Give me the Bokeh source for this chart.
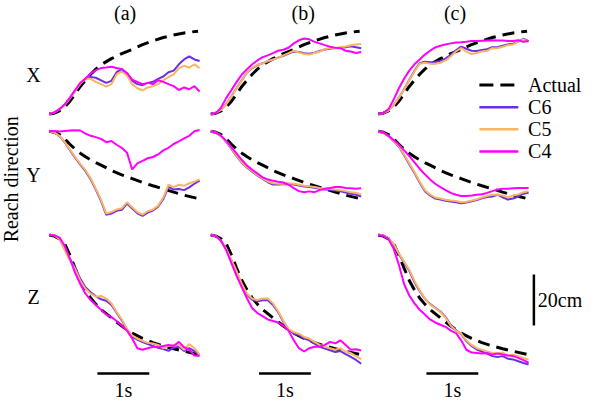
import math
import numpy as np
from bokeh.plotting import figure
from bokeh.models import Range1d, Label
from bokeh.embed import file_html
from bokeh.resources import INLINE

# ---------------- data (time in s, position change in cm) ----------------
t = [0.0, 0.1, 0.2, 0.3, 0.4, 0.5, 0.6, 0.7, 0.8, 0.9, 1.0, 1.1, 1.2, 1.3, 1.4,
     1.5, 1.6, 1.7, 1.8, 1.9, 2.0, 2.1, 2.2, 2.3, 2.4, 2.5, 2.6, 2.7, 2.8, 2.9]
t_actual = [0.0, 0.1, 0.2, 0.3, 0.4, 0.5, 0.6, 0.7, 0.8, 0.9, 1.0, 1.2, 1.4, 1.6,
            1.8, 2.0, 2.2, 2.4, 2.6, 2.87]

actual_x = [0, 0.3, 1.2, 2.7, 5.0, 7.8, 10.8, 13.3, 15.6, 17.6, 19.3, 21.7, 23.7,
            25.3, 27.2, 28.7, 30.0, 31.0, 31.8, 32.5]
actual_y = [0, -0.4, -1.3, -3.0, -5.1, -7.0, -8.6, -10.0, -11.2, -12.3, -13.3, -15.4,
            -17.1, -18.6, -20.1, -21.4, -22.6, -23.9, -25.1, -26.4]
actual_z = [0, -0.4, -1.5, -3.5, -7.9, -13.0, -17.8, -21.6, -24.7, -27.1, -29.2, -32.5,
            -35.7, -38.5, -40.5, -42.2, -43.5, -44.6, -45.6, -46.8]

# (a)
c6_a_x = [0, 0.6, 1.9, 3.6, 6.1, 9.0, 11.8, 13.8, 14.5, 14.2, 13.2, 12.2, 13.0, 16.4, 17.6,
          16.0, 13.0, 11.7, 11.3, 12.2, 12.6, 13.8, 14.7, 16.4, 17.0, 19.5, 21.4, 22.6, 21.4, 20.8]
c5_a_x = [0, 0.6, 1.9, 3.6, 6.1, 9.0, 11.8, 13.8, 13.8, 12.6, 11.7, 10.7, 11.7, 15.5, 16.7,
          15.1, 11.7, 10.1, 9.2, 10.4, 10.9, 11.7, 13.2, 14.5, 15.5, 18.0, 18.9, 18.2, 19.5, 18.0]
c4_a_x = [0, 0.6, 1.9, 3.8, 6.4, 9.4, 12.2, 13.9, 15.9, 17.2, 18.0, 18.2, 18.5, 18.0, 17.6,
          16.0, 13.5, 12.6, 11.7, 12.2, 11.7, 13.2, 12.6, 11.7, 10.9, 9.4, 10.4, 9.7, 10.9, 8.8]
c6_a_y = [0, -0.5, -1.9, -4.4, -7.4, -10.4, -13.1, -15.7, -18.9, -23.0, -27.4, -32.8, -32.3, -31.2, -30.8,
          -28.4, -30.3, -32.2, -33.2, -31.9, -31.1, -29.6, -26.6, -21.8, -22.9, -22.7, -23.1, -22.0, -20.6, -19.4]
c5_a_y = [0, -0.5, -1.8, -4.3, -7.2, -10.1, -12.8, -15.3, -18.5, -22.6, -26.9, -32.3, -31.7, -30.7, -30.2,
          -27.9, -29.8, -31.7, -32.7, -31.4, -30.7, -29.2, -26.0, -21.0, -21.9, -21.0, -21.4, -20.4, -19.8, -18.9]
c4_a_y = [0, 0.1, -0.1, 0.1, 0.3, 0.4, 0.3, -0.9, -1.8, -2.3, -3.0, -4.3, -3.8, -5.3, -6.5,
          -8.4, -15.0, -12.6, -11.6, -10.6, -10.1, -9.1, -7.5, -6.5, -5.0, -4.0, -2.8, -1.8, 0.0, 0.5]
c6_a_z = [0, -0.1, -1.4, -5.5, -9.4, -12.6, -17.2, -20.5, -22.4, -24.0, -25.2, -25.8, -27.4, -30.5, -33.5,
          -37.0, -39.9, -41.0, -42.0, -42.8, -43.5, -44.2, -44.7, -45.4, -44.2, -43.8, -45.5, -44.4, -45.5, -47.0]
c5_a_z = [0, -0.1, -1.6, -6.0, -10.1, -13.3, -18.0, -21.1, -23.0, -24.2, -23.9, -24.9, -26.8, -30.2, -33.1,
          -36.9, -39.4, -40.6, -41.5, -42.3, -42.5, -43.1, -44.4, -43.5, -43.1, -43.1, -45.0, -42.8, -44.4, -46.9]
c4_a_z = [0, -0.1, -1.0, -4.2, -9.2, -14.8, -19.2, -23.0, -25.5, -27.4, -29.3, -31.2, -32.2, -33.7, -35.6,
          -37.5, -40.6, -44.4, -45.0, -44.4, -43.8, -44.0, -43.5, -43.1, -43.5, -41.9, -44.0, -45.0, -47.3, -47.5]

# (b)
c6_b_x = [0, 0.4, 1.7, 3.9, 7.0, 10.2, 13.3, 16.3, 18.0, 19.2, 19.9, 20.6, 21.3, 22.1, 22.8,
          23.7, 24.5, 24.3, 23.8, 23.6, 24.0, 24.7, 25.3, 25.6, 25.9, 26.0, 26.2, 26.6, 26.2, 25.8]
c5_b_x = [0, 0.4, 1.6, 3.8, 6.9, 10.1, 13.2, 16.4, 18.2, 19.3, 19.8, 20.8, 21.4, 22.0, 23.0,
          23.9, 24.8, 24.1, 23.5, 23.3, 23.9, 24.5, 25.5, 25.8, 25.8, 26.3, 26.5, 27.0, 27.3, 27.5]
c4_b_x = [0, 0.4, 2.5, 6.3, 9.4, 12.6, 15.5, 17.6, 19.5, 21.0, 22.3, 23.0, 23.9, 24.8, 25.2,
          26.0, 27.7, 28.9, 29.6, 29.3, 28.3, 27.7, 27.0, 26.4, 26.0, 25.8, 24.8, 24.5, 23.9, 24.3]
c6_b_y = [0, -0.5, -1.9, -4.2, -7.0, -9.9, -12.4, -14.3, -15.9, -17.4, -18.7, -20.0, -20.9, -20.9, -20.8,
          -20.7, -20.9, -21.3, -21.7, -21.9, -22.2, -22.6, -22.9, -23.0, -23.3, -23.6, -24.0, -24.5, -24.9, -25.6]
c5_b_y = [0, -0.5, -1.8, -4.0, -6.8, -9.7, -12.2, -14.1, -15.6, -17.2, -18.5, -19.7, -20.4, -20.6, -20.6,
          -20.4, -20.6, -21.0, -21.4, -21.6, -21.9, -22.3, -22.6, -22.6, -22.9, -23.1, -23.5, -23.9, -24.1, -24.8]
c4_b_y = [0, -0.5, -1.8, -3.8, -6.3, -8.8, -11.3, -13.5, -15.1, -16.6, -18.1, -18.9, -19.4, -19.8, -20.1,
          -21.0, -22.3, -23.5, -23.9, -23.6, -23.9, -23.1, -22.6, -22.3, -21.9, -21.9, -22.3, -22.4, -22.6, -22.4]
c6_b_z = [0, -0.4, -2.2, -5.6, -10.0, -14.5, -19.5, -23.4, -25.4, -26.0, -25.6, -25.6, -27.4, -30.3, -34.0,
          -37.2, -38.6, -39.3, -40.6, -41.3, -42.6, -43.8, -44.5, -45.2, -45.9, -45.5, -46.7, -47.8, -49.0, -50.5]
c5_b_z = [0, -0.4, -2.3, -5.4, -9.8, -14.2, -19.2, -23.0, -24.9, -25.5, -24.9, -24.9, -26.8, -29.9, -33.7,
          -36.9, -38.1, -38.7, -40.0, -40.6, -41.9, -43.1, -43.8, -44.4, -45.0, -44.4, -45.7, -46.3, -47.5, -48.8]
c4_b_z = [0, -0.4, -2.3, -6.0, -11.1, -16.1, -20.5, -24.9, -28.7, -30.6, -31.8, -33.1, -33.7, -34.3, -35.6,
          -37.5, -41.3, -44.4, -45.7, -44.4, -43.8, -43.8, -43.1, -41.9, -42.5, -41.3, -43.1, -45.0, -44.8, -45.3]

# (c)
c6_c_x = [0, 0.3, 1.4, 3.5, 6.4, 9.8, 13.4, 17.0, 19.9, 20.5, 20.3, 20.4, 20.8, 21.7, 23.2,
          25.0, 26.4, 25.6, 24.8, 24.7, 25.1, 25.4, 26.2, 26.2, 26.8, 27.3, 27.6, 28.4, 29.5, 28.6]
c5_c_x = [0, 0.3, 1.3, 3.4, 6.3, 9.7, 13.2, 16.7, 19.7, 20.1, 19.7, 19.7, 20.1, 21.0, 22.6,
          24.5, 25.8, 24.5, 23.5, 23.9, 24.5, 24.8, 25.8, 25.8, 26.4, 27.0, 27.3, 28.3, 29.3, 28.3]
c4_c_x = [0, 0.4, 1.9, 5.7, 10.1, 13.8, 17.0, 19.5, 21.4, 23.3, 24.8, 26.1, 26.8, 27.3, 27.7,
          28.0, 28.1, 28.3, 28.6, 28.6, 28.7, 28.8, 28.9, 28.8, 28.8, 28.6, 28.6, 28.9, 28.3, 28.6]
c6_c_y = [0, -0.6, -1.9, -3.9, -6.1, -9.4, -12.9, -16.4, -20.1, -23.5, -25.2, -26.4, -26.8, -27.3, -27.6,
          -27.9, -28.3, -28.0, -27.5, -27.0, -26.3, -25.8, -25.6, -24.9, -25.9, -26.8, -26.4, -25.6, -24.5, -24.1]
c5_c_y = [0, -0.6, -1.8, -3.8, -5.9, -9.1, -12.6, -16.0, -19.7, -23.1, -24.8, -26.0, -26.4, -26.9, -27.2,
          -27.4, -27.9, -27.7, -27.2, -26.7, -26.0, -25.4, -24.9, -24.8, -25.2, -26.0, -25.2, -24.8, -23.9, -23.5]
c4_c_y = [0, -0.5, -1.8, -3.4, -5.3, -7.5, -9.7, -12.2, -14.7, -16.9, -18.9, -20.6, -21.9, -23.1, -24.2,
          -24.9, -25.4, -25.4, -25.2, -24.9, -24.7, -24.2, -23.5, -22.9, -22.6, -22.6, -22.4, -22.3, -22.3, -22.3]
c6_c_z = [0, -0.1, -1.4, -3.7, -7.5, -10.8, -14.0, -18.4, -22.0, -25.0, -27.0, -28.5, -30.0, -32.2, -35.3,
          -37.3, -38.9, -41.6, -43.5, -44.9, -45.7, -46.5, -47.5, -47.9, -47.5, -48.5, -48.8, -49.5, -50.2, -50.8]
c5_c_z = [0, -0.1, -1.3, -3.5, -7.2, -10.4, -13.6, -18.0, -21.7, -24.9, -27.2, -28.7, -30.2, -32.5, -35.6,
          -37.5, -38.7, -41.3, -43.1, -44.4, -45.0, -45.7, -46.3, -46.5, -46.1, -47.3, -46.9, -47.5, -48.2, -48.8]
c4_c_z = [0, -0.3, -1.6, -5.4, -11.7, -19.2, -23.7, -26.8, -29.3, -31.2, -33.1, -34.3, -35.2, -36.0, -37.5,
          -38.5, -41.3, -45.0, -46.1, -46.3, -46.5, -46.3, -46.9, -46.5, -46.9, -47.3, -47.5, -48.2, -49.1, -50.1]

columns = ["(a)", "(b)", "(c)"]
rows = ["X", "Y", "Z"]
series_names = ["Actual", "C6", "C5", "C4"]
scale_time = 1.0    # s
scale_dist = 20.0   # cm

# ---------------- layout ----------------
PX_S = 53.3    # reference pixels per second
PX_CM = 2.65   # reference pixels per cm
W, H = 584, 399
X_SPAN = 600 / PX_S
Y_SPAN = 415 / PX_CM
KX = W / X_SPAN   # screen px per data unit (x)
KY = H / Y_SPAN   # screen px per data unit (y)

def px(x, y):
    return x / PX_S, -y / PX_CM

def dash_pieces(xs, ys, on=12.0, off=7.0):
    """Split a polyline into dash pieces of `on` screen px separated by `off` px."""
    out_x, out_y = [], []
    phase, state_on = 0.0, True
    cx, cy = [xs[0]], [ys[0]]
    for i in range(len(xs) - 1):
        x0, y0, x1, y1 = xs[i], ys[i], xs[i + 1], ys[i + 1]
        L = math.hypot((x1 - x0) * KX, (y1 - y0) * KY)
        d = 0.0
        while d < L - 1e-9:
            limit = on if state_on else off
            step = min(limit - phase, L - d)
            d += step
            phase += step
            f = d / L
            qx, qy = x0 + (x1 - x0) * f, y0 + (y1 - y0) * f
            if state_on:
                cx.append(qx)
                cy.append(qy)
            if phase >= limit - 1e-9:
                if state_on:
                    out_x.append(cx)
                    out_y.append(cy)
                state_on = not state_on
                phase = 0.0
                cx, cy = [qx], [qy]
    if state_on and len(cx) > 1:
        out_x.append(cx)
        out_y.append(cy)
    return out_x, out_y

col_off = [px(50, 0)[0], px(216, 0)[0], px(388, 0)[0]]
row_off = [px(0, 118)[1], px(0, 136)[1], px(0, 244)[1]]

colors = {"Actual": "black", "C6": "#6a2fe6", "C5": "#f8b563", "C4": "#ff00ff"}

p = figure(width=W, height=H, x_range=Range1d(0, X_SPAN), y_range=Range1d(-Y_SPAN, 0),
           output_backend="svg", toolbar_location=None, min_border=0,
           x_axis_location=None, y_axis_location=None)
p.grid.visible = False
p.outline_line_color = None

actual = [actual_x, actual_y, actual_z]
traces = {
    (0, 0): (c6_a_x, c5_a_x, c4_a_x), (1, 0): (c6_a_y, c5_a_y, c4_a_y), (2, 0): (c6_a_z, c5_a_z, c4_a_z),
    (0, 1): (c6_b_x, c5_b_x, c4_b_x), (1, 1): (c6_b_y, c5_b_y, c4_b_y), (2, 1): (c6_b_z, c5_b_z, c4_b_z),
    (0, 2): (c6_c_x, c5_c_x, c4_c_x), (1, 2): (c6_c_y, c5_c_y, c4_c_y), (2, 2): (c6_c_z, c5_c_z, c4_c_z),
}

# dashed "Actual" curves (dashes built from the data, drawn solid)
dxs, dys = [], []
for r in range(3):
    for c in range(3):
        xo, yo = col_off[c], row_off[r]
        ax, ay = dash_pieces([xo + v for v in t_actual], [yo + v for v in actual[r]])
        dxs += ax
        dys += ay
p.multi_line(dxs, dys, line_color="black", line_width=3)

# decoded traces
for r in range(3):
    for c in range(3):
        xo, yo = col_off[c], row_off[r]
        for name, ser in zip(["C6", "C5", "C4"], traces[(r, c)]):
            p.line([xo + v for v in t], [yo + v for v in ser],
                   line_color=colors[name], line_width=2)

# legend lines
leg_y = [88, 111, 134, 157]
for name, yy in zip(series_names, leg_y):
    x0, y0 = px(492, yy)
    x1, _ = px(532, yy)
    if name == "Actual":
        lxs, lys = dash_pieces([x0, x1], [y0, y0], on=14.0, off=7.0)
        p.multi_line(lxs, lys, line_color="black", line_width=3)
    else:
        p.line([x0, x1], [y0, y0], line_color=colors[name], line_width=2.5)

# time scale bars
t_start = 0.93
bar_y = px(0, 388)[1]
for c in range(3):
    xs = col_off[c] + t_start
    p.line([xs, xs + scale_time], [bar_y, bar_y], line_color="black", line_width=2.5)

# distance scale bar
vx, vb = px(548, 338)
p.line([vx, vx], [vb, vb + scale_dist], line_color="black", line_width=2.5)

# ---------- texts as Label annotations ----------
FONT = "Liberation Serif"
FS = "20px"

def add_label(x, y, text, align="center", angle=0.0):
    p.add_layout(Label(x=x, y=y, text=text, text_font=FONT, text_font_size=FS,
                       text_color="black", text_align=align, text_baseline="middle",
                       angle=angle))

for (xx, yy), s in zip([px(128, 13), px(311, 13), px(467, 13)], columns):
    add_label(xx, yy, s)
for (xx, yy), s in zip([px(34, 77), px(34, 181), px(34, 308)], rows):
    add_label(xx, yy, s)
lx, ly = px(11, 186)
add_label(lx, ly, "Reach direction", angle=np.pi / 2)
for name, yy in zip(series_names, leg_y):
    add_label(px(542, 0)[0], px(0, yy)[1], name, align="left")
lab_y = px(0, 405)[1]
for c in range(3):
    add_label(col_off[c] + t_start + scale_time / 2, lab_y, "%gs" % scale_time)
lx2, ly2 = px(552, 311)
add_label(lx2, ly2, "%gcm" % scale_dist, align="left")

open("out.html", "w").write(file_html(p, INLINE))
